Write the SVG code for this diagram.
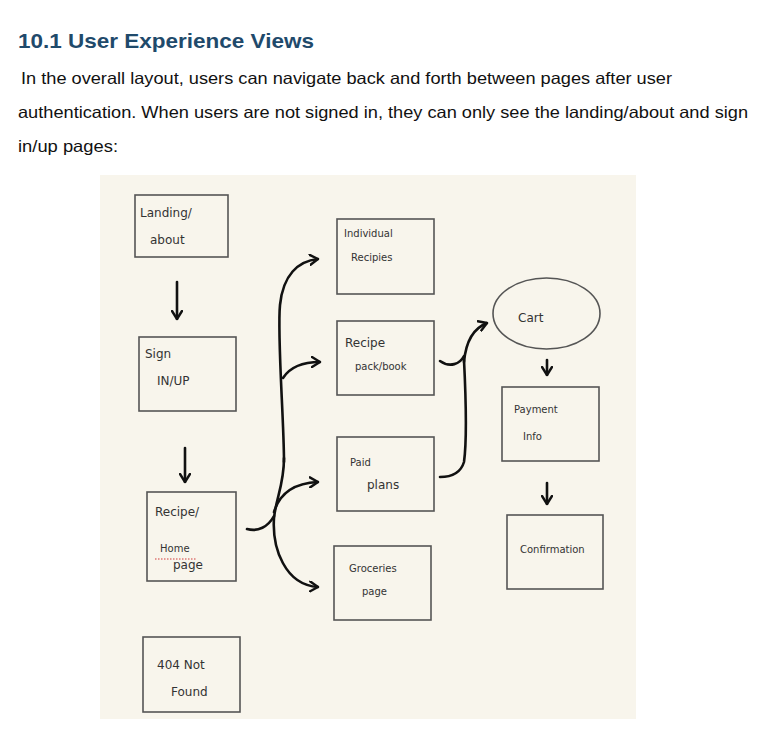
<svg xmlns="http://www.w3.org/2000/svg" width="770" height="740" viewBox="0 0 770 740">
<defs>
<style>
.title{font-family:"Liberation Sans",Arial,sans-serif;font-weight:bold;font-size:21px;fill:#1f4a6b}
.body{font-family:"Liberation Sans",Arial,sans-serif;font-size:16.5px;fill:#111}
.box{fill:none;stroke:#555;stroke-width:1.6}
.hw{font-family:"DejaVu Sans",sans-serif;font-size:12px;fill:#333}
.hws{font-family:"DejaVu Sans",sans-serif;font-size:10px;fill:#333}
.con{fill:none;stroke:#111;stroke-width:2.6;stroke-linecap:round}
</style>
<marker id="ah" viewBox="0 0 10 12" refX="9" refY="6" markerWidth="10" markerHeight="12" markerUnits="userSpaceOnUse" orient="auto">
<path d="M1,1 L9,6 L1,11" fill="none" stroke="#111" stroke-width="2.4" stroke-linecap="round" stroke-linejoin="round"/>
</marker>
</defs>
<rect width="770" height="740" fill="#ffffff"/>
<text class="title" x="18" y="48" textLength="296" lengthAdjust="spacingAndGlyphs">10.1 User Experience Views</text>
<text class="body" x="21" y="84" textLength="651" lengthAdjust="spacingAndGlyphs">In the overall layout, users can navigate back and forth between pages after user</text>
<text class="body" x="18" y="118" textLength="730" lengthAdjust="spacingAndGlyphs">authentication. When users are not signed in, they can only see the landing/about and sign</text>
<text class="body" x="18" y="152" textLength="100" lengthAdjust="spacingAndGlyphs">in/up pages:</text>
<rect x="100" y="175" width="536" height="544" fill="#f8f5ec"/>
<g id="landing"><rect class="box" x="135" y="195" width="93" height="62"/><text class="hw" x="140" y="217">Landing/</text><text class="hw" x="150" y="244">about</text></g>
<g id="signin"><rect class="box" x="139" y="337" width="97" height="74"/><text class="hw" x="145" y="358">Sign</text><text class="hw" x="157" y="385">IN/UP</text></g>
<g id="home"><rect class="box" x="147" y="492" width="89" height="89"/><text class="hw" x="155" y="516">Recipe/</text><text class="hws" x="160" y="552">Home</text><line x1="155" y1="559" x2="196" y2="559" stroke="#d23b3b" stroke-width="1" stroke-dasharray="1.5,1.5"/><text class="hw" x="173" y="569">page</text></g>
<g id="notfound"><rect class="box" x="143" y="637" width="97" height="75"/><text class="hw" x="157" y="669">404 Not</text><text class="hw" x="171" y="696">Found</text></g>
<g id="individual"><rect class="box" x="337" y="219" width="97" height="75"/><text class="hws" x="344" y="237">Individual</text><text class="hws" x="351" y="261">Recipies</text></g>
<g id="pack"><rect class="box" x="337" y="321" width="97" height="74"/><text class="hw" x="345" y="347">Recipe</text><text class="hws" x="355" y="370">pack/book</text></g>
<g id="paid"><rect class="box" x="337" y="437" width="97" height="74"/><text class="hws" x="350" y="466">Paid</text><text class="hw" x="367" y="489">plans</text></g>
<g id="groceries"><rect class="box" x="334" y="546" width="97" height="74"/><text class="hws" x="349" y="572">Groceries</text><text class="hws" x="362" y="595">page</text></g>
<g id="cart"><ellipse class="box" cx="546.5" cy="313.5" rx="53.5" ry="35.5"/><text class="hw" x="518" y="322">Cart</text></g>
<g id="payment"><rect class="box" x="502" y="387" width="97" height="74"/><text class="hws" x="514" y="413">Payment</text><text class="hws" x="523" y="440">Info</text></g>
<g id="confirmation"><rect class="box" x="507" y="515" width="96" height="74"/><text class="hws" x="520" y="553">Confirmation</text></g>
<g id="connectors">
<path class="con" d="M284,462 C284,420 277,335 280,305 C283,275 298,261 318,259" marker-end="url(#ah)"/>
<path class="con" d="M283,378 C290,367 304,362 320,362" marker-end="url(#ah)"/>
<path class="con" d="M284,458 C284,485 276,498 274,518 C272,548 285,585 318,587" marker-end="url(#ah)"/>
<path class="con" d="M274,512 C280,492 296,483 318,482" marker-end="url(#ah)"/>
<path class="con" d="M247,529 C258,532 268,527 274,516"/>
<path class="con" d="M177,282 L177,319" marker-end="url(#ah)"/>
<path class="con" d="M185,448 L185,482" marker-end="url(#ah)"/>
<path class="con" d="M440,361 C450,368 460,364 464,356"/>
<path class="con" d="M464,360 C466,400 467,440 464,462 C461,472 452,477 440,477"/>
<path class="con" d="M464,362 C466,340 474,328 487,323" marker-end="url(#ah)"/>
<path class="con" d="M547,360 L547,375" marker-end="url(#ah)"/>
<path class="con" d="M547,483 L547,504" marker-end="url(#ah)"/>
</g>
</svg>
